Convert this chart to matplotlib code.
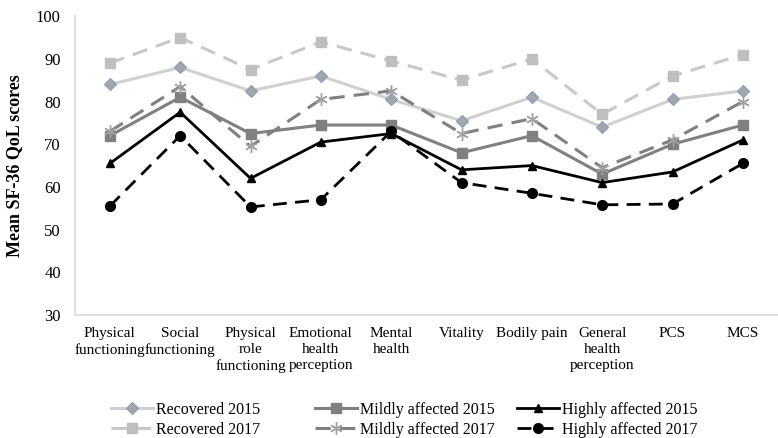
import matplotlib
matplotlib.use("Agg")
import matplotlib.pyplot as plt

categories = ["Physical\nfunctioning", "Social\nfunctioning", "Physical\nrole\nfunctioning",
              "Emotional\nhealth\nperception", "Mental\nhealth", "Vitality", "Bodily pain",
              "General\nhealth\nperception", "PCS", "MCS"]

recovered_2015 = [84, 88, 82.5, 86, 80.5, 75.5, 81, 74, 80.5, 82.5]
recovered_2017 = [89, 95, 87.5, 94, 89.5, 85, 90, 77, 86, 91]
mildly_2015 = [72, 81, 72.5, 74.5, 74.5, 68, 72, 63, 70, 74.5]
mildly_2017 = [73, 83.5, 69.5, 80.5, 82.5, 72.5, 76, 64.5, 71, 80]
highly_2015 = [65.5, 77.5, 62, 70.5, 72.5, 64, 65, 61, 63.5, 71]
highly_2017 = [55.5, 72, 55.3, 57, 73, 61, 58.5, 55.8, 56, 65.5]

plt.rcParams['font.family'] = ['Liberation Serif', 'DejaVu Serif']

fig = plt.figure(figsize=(7.78, 4.38), dpi=100)
ax = fig.add_axes([0.096, 0.281, 0.904, 0.682])
x = list(range(len(categories)))

l_r15, = ax.plot(x, recovered_2015, color='#d0d0d0', lw=2.2, marker='D', ms=6,
                 mfc='#a6a6a6', mec='#7f9fc4', mew=0.8, label='Recovered 2015')
l_r17, = ax.plot(x, recovered_2017, color='#c8c8c8', lw=2.2, ls=(0, (5, 3)), marker='s', ms=7,
                 mfc='#bfbfbf', mec='#bfbfbf', label='Recovered 2017')
l_m15, = ax.plot(x, mildly_2015, color='#808080', lw=2.2, marker='s', ms=7,
                 mfc='#808080', mec='#808080', label='Mildly affected 2015')
l_m17, = ax.plot(x, mildly_2017, color='#808080', lw=2.2, ls=(0, (5, 3)), marker=(6, 2, 0), ms=9,
                 mec='#a0a0a0', mew=1.0, label='Mildly affected 2017')
l_h15, = ax.plot(x, highly_2015, color='black', lw=2, marker='^', ms=6,
                 label='Highly affected 2015')
l_h17, = ax.plot(x, highly_2017, color='black', lw=2, ls=(0, (5, 3)), marker='o', ms=7,
                 label='Highly affected 2017')

ax.set_xlim(-0.5, len(categories) - 0.5)
ax.set_ylim(30, 100)
ax.set_yticks(range(30, 101, 10))
ax.set_xticks(x)
ax.set_xticklabels(categories, fontsize=11, linespacing=1.3, va='top')
ax.tick_params(axis='x', length=0, pad=9)
ax.tick_params(axis='y', length=0, pad=10, labelsize=12)
ax.set_ylabel('Mean SF-36 QoL scores', fontsize=13, fontweight='bold', labelpad=9)

for s in ['top', 'right']:
    ax.spines[s].set_visible(False)
for s in ['left', 'bottom']:
    ax.spines[s].set_color('#d9d9d9')
    ax.spines[s].set_linewidth(1.2)

# легенда: три столбца, каждый отдельно, как в Excel
columns = [([l_r15, l_r17], 111), ([l_m15, l_m17], 315), ([l_h15, l_h17], 517)]
for handles, px in columns:
    leg = fig.legend(handles=handles, loc='center left',
                     bbox_to_anchor=(px / 778, 1 - 420 / 438), frameon=False,
                     fontsize=11.5, handlelength=2.6, labelspacing=0.25,
                     handletextpad=0.2, borderpad=0, borderaxespad=0)

fig.savefig('out.png', dpi=100)
